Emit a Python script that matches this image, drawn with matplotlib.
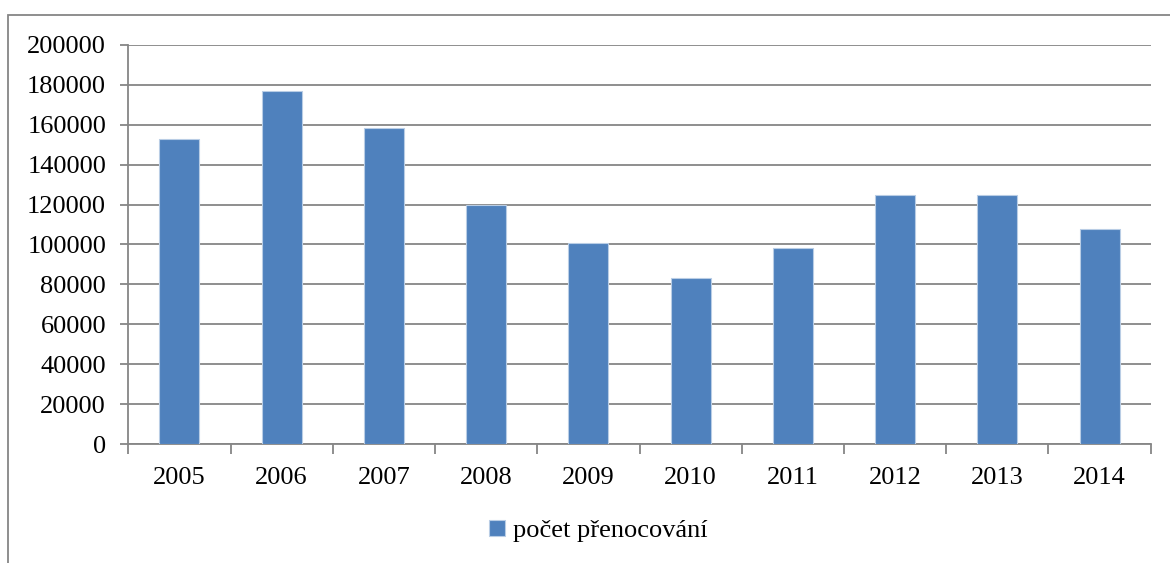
import matplotlib
matplotlib.use("Agg")
import matplotlib.pyplot as plt
import numpy as np
from matplotlib.patches import Rectangle

years = ["2005", "2006", "2007", "2008", "2009", "2010", "2011", "2012", "2013", "2014"]
values = [152700, 177000, 158500, 120000, 101000, 83000, 98000, 125000, 125000, 108000]
series_name = "počet přenocování"
yticks = list(range(0, 200001, 20000))

plt.rcParams['font.family'] = ['Liberation Serif', 'DejaVu Serif']

fig = plt.figure(figsize=(11.7, 5.63), dpi=100)
fig.patch.set_facecolor("white")

gray = "#868686"
# outer chart frame
fig.patches.append(Rectangle((8/1170, -0.1), 1.2, 1 - 15/563 + 0.1, transform=fig.transFigure,
                             fill=False, edgecolor=gray, linewidth=1.3, zorder=0))

ax = fig.add_axes([128.3/1170, 1 - 444.3/563, (1150.7-128.3)/1170, (444.3-44.7)/563])
x = np.arange(len(years))
bars = ax.bar(x, values, width=0.39, color="#4F81BD", edgecolor="#B9CDE5", linewidth=0.8,
              label=series_name, zorder=3)

ax.set_xlim(-0.5, len(years) - 0.5)
ax.set_ylim(0, 200000)
ax.set_yticks(yticks)
ax.set_yticklabels([str(v) for v in yticks])
ax.yaxis.grid(True, color=gray, linewidth=1.3, zorder=0)
ax.set_axisbelow(True)

ax.set_xticks(x)
ax.set_xticklabels(years)
ax.set_xticks(np.arange(-0.5, len(years)), minor=True)
ax.tick_params(axis='x', which='major', length=0, pad=16, labelsize=19)
ax.tick_params(axis='x', which='minor', length=7, width=1.3, color=gray, direction='out')
ax.tick_params(axis='y', which='major', length=6, width=1.3, color=gray, direction='out',
               pad=10, labelsize=19)

for s in ["top", "right"]:
    ax.spines[s].set_visible(False)
for s in ["left", "bottom"]:
    ax.spines[s].set_color(gray)
    ax.spines[s].set_linewidth(1.3)

leg = fig.legend(handles=[bars], labels=[series_name], loc="center",
                 bbox_to_anchor=(598/1170, 1 - 531/563), frameon=False,
                 fontsize=19, handlelength=0.6, handleheight=0.6, handletextpad=0.3)

fig.savefig("out.png", dpi=100)
